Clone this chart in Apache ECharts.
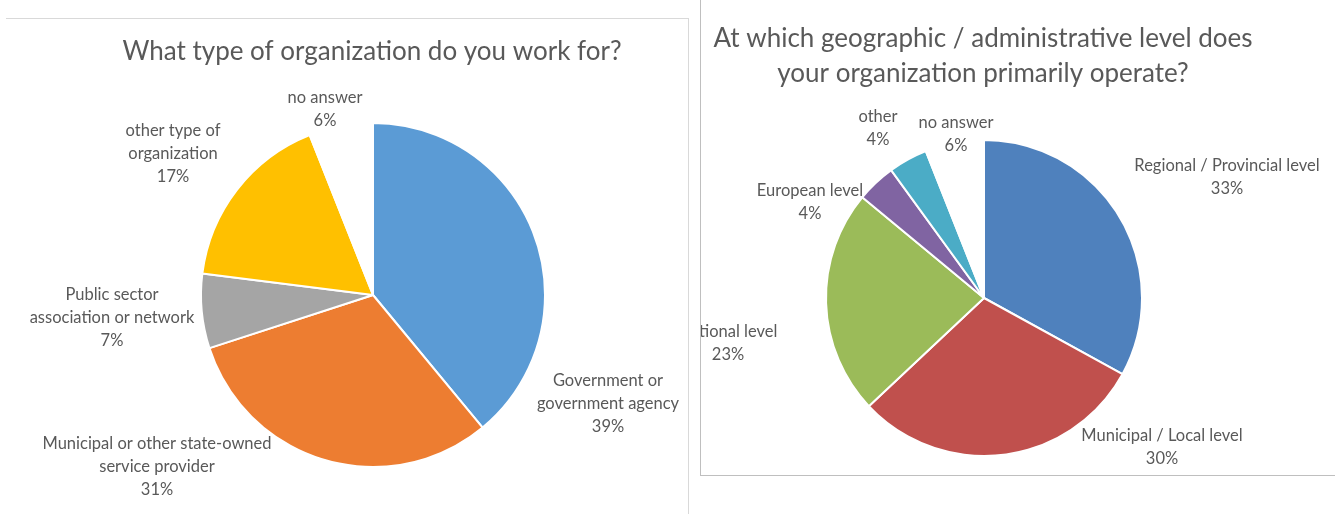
<!DOCTYPE html>
<html>
<head>
<meta charset="utf-8">
<title>Survey: organization type and operating level</title>
<script src="https://cdn.jsdelivr.net/npm/echarts@6/dist/echarts.min.js"></script>
<style>
  html, body { margin: 0; padding: 0; background: #ffffff; }
  body { width: 1335px; height: 514px; position: relative; overflow: hidden; }
  #frameL { position: absolute; left: 6px; top: 18px; width: 682px; height: 500px;
            border-top: 1px solid #d9d9d9; border-right: 1px solid #d9d9d9; }
  #frameR { position: absolute; left: 700px; top: 0; width: 634px; height: 475px;
            border-left: 1px solid #bfbfbf; border-bottom: 1px solid #bfbfbf; }
  #orgChart { position: absolute; left: 0; top: 0; width: 688px; height: 514px; }
  #levelChart { position: absolute; left: 701px; top: 0; width: 634px; height: 475px; overflow: hidden; }
</style>
</head>
<body>
<div id="frameL"></div>
<div id="frameR"></div>
<div id="orgChart"></div>
<div id="levelChart"></div>
<script>
// Question 1: type of organization
const orgTitle = 'What type of organization do you work for?';
const orgCategories = [
  'Government or\ngovernment agency',
  'Municipal or other state-owned\nservice provider',
  'Public sector\nassociation or network',
  'other type of\norganization',
  'no answer'
];
const orgShares = [39, 31, 7, 17, 6];

// Question 2: geographic / administrative level
const levelTitle = 'At which geographic / administrative level does\nyour organization primarily operate?';
const levelCategories = [
  'Regional / Provincial level',
  'Municipal / Local level',
  'National level',
  'European level',
  'other',
  'no answer'
];
const levelShares = [33, 30, 23, 4, 4, 6];

// Styling
const orgColors = ['#5b9bd5', '#ed7d31', '#a5a5a5', '#ffc000', '#ffffff'];
const levelColors = ['#4f81bd', '#c0504d', '#9bbb59', '#8064a2', '#4bacc6', '#ffffff'];
const FONT = 'Lato, "Open Sans", sans-serif';
const TEXT_COLOR = '#595959';

// Hand-placed label anchors (centre of each label block, in chart pixels)
const orgLabelAnchors = [[608, 404], [157, 467], [112, 318], [173, 154], [325, 109]];
const levelLabelAnchors = [[526, 177], [461, 447], [27, 343], [109, 202], [177, 128], [255, 134]];

function pieOption(title, titleX, titleY, names, values, colors, center, radius, anchors) {
  return {
    animation: false,
    graphic: [{
      type: 'text',
      x: titleX,
      y: titleY,
      silent: true,
      style: {
        text: title,
        align: 'center',
        verticalAlign: 'middle',
        font: '26px ' + FONT,
        lineHeight: 35,
        fill: TEXT_COLOR
      }
    }],
    series: [{
      type: 'pie',
      center: center,
      radius: radius,
      startAngle: 90,
      clockwise: true,
      avoidLabelOverlap: false,
      emphasis: { disabled: true },
      itemStyle: { borderColor: '#ffffff', borderWidth: 2 },
      label: {
        show: true,
        position: 'outside',
        overflow: 'none',
        formatter: function (p) { return p.name + '\n' + p.value + '%'; },
        fontFamily: FONT,
        fontSize: 16.5,
        lineHeight: 23,
        color: TEXT_COLOR,
        align: 'center'
      },
      labelLine: { show: false },
      labelLayout: function (params) {
        const a = anchors[params.dataIndex];
        return { x: a[0], y: a[1], align: 'center', verticalAlign: 'middle' };
      },
      data: names.map(function (n, i) {
        return { name: n, value: values[i], itemStyle: { color: colors[i] } };
      })
    }]
  };
}

const orgChart = echarts.init(document.getElementById('orgChart'), null, { renderer: 'canvas' });
orgChart.setOption(pieOption(orgTitle, 372, 52, orgCategories, orgShares, orgColors,
  [373, 295], 172, orgLabelAnchors));

const levelChart = echarts.init(document.getElementById('levelChart'), null, { renderer: 'canvas' });
levelChart.setOption(pieOption(levelTitle, 282, 56, levelCategories, levelShares, levelColors,
  [283, 298], 158, levelLabelAnchors));
</script>
</body>
</html>
